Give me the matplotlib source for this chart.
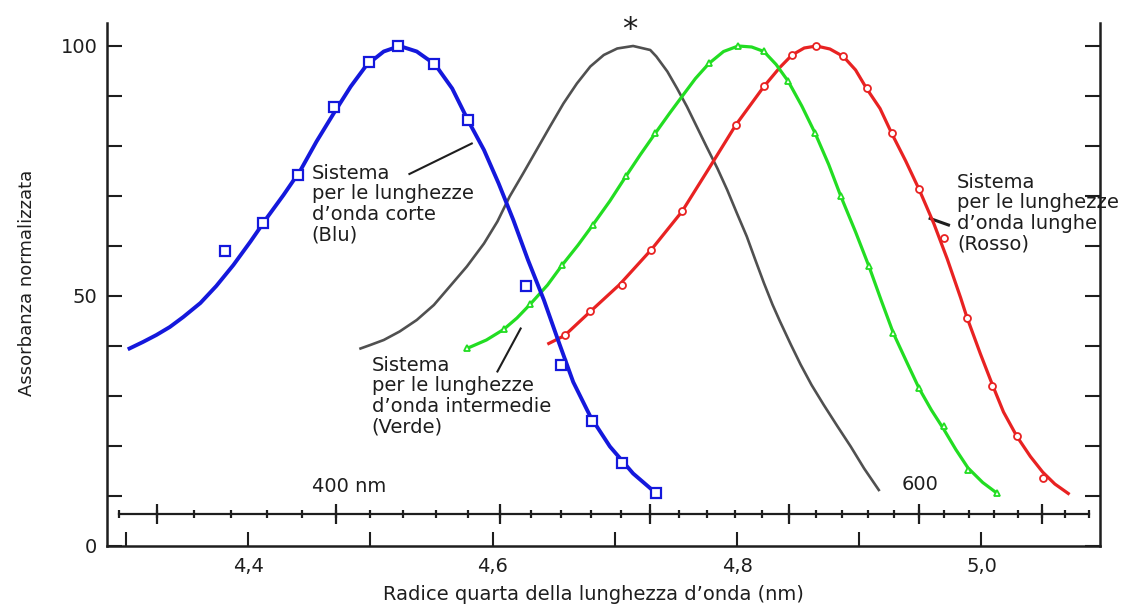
import matplotlib.pyplot as plt

# x = fourth root of wavelength, y = normalised absorbance
blue_line_x = [4.303, 4.314, 4.325, 4.336, 4.347, 4.361, 4.374, 4.388, 4.402, 4.415,
               4.429, 4.443, 4.456, 4.470, 4.484, 4.497, 4.511, 4.524, 4.538, 4.553,
               4.567, 4.580, 4.593, 4.605, 4.617, 4.629, 4.642, 4.654, 4.666, 4.680,
               4.696, 4.715, 4.734]
blue_line_y = [39.5, 40.8, 42.2, 43.8, 45.8, 48.6, 52.0, 56.2, 60.9, 65.5,
               70.2, 75.2, 80.9, 86.5, 91.9, 96.2, 98.9, 100.0, 98.9, 96.3,
               91.5, 85.1, 79.2, 72.5, 65.2, 57.2, 49.2, 40.9, 32.8, 25.9,
               19.9, 14.5, 10.5]
blue_pts_x = [4.381, 4.412, 4.441, 4.470, 4.499, 4.523, 4.552, 4.580, 4.627, 4.656,
              4.681, 4.706, 4.734]
blue_pts_y = [58.9, 64.5, 74.1, 87.7, 96.7, 100.0, 96.3, 85.1, 51.9, 36.1,
              24.9, 16.5, 10.5]

gray_line_x = [4.492, 4.500, 4.511, 4.524, 4.538, 4.552, 4.565, 4.579, 4.593, 4.604,
               4.614, 4.625, 4.636, 4.647, 4.658, 4.669, 4.680, 4.691, 4.702, 4.715,
               4.729, 4.734, 4.743, 4.751, 4.759, 4.767, 4.775, 4.784, 4.792, 4.800,
               4.808, 4.815, 4.822, 4.829, 4.835, 4.844, 4.852, 4.861, 4.871, 4.882,
               4.893, 4.904, 4.916]
gray_line_y = [39.5, 40.2, 41.2, 42.9, 45.2, 48.2, 51.9, 55.9, 60.5, 64.9,
               69.9, 74.5, 79.2, 83.9, 88.5, 92.5, 95.9, 98.2, 99.5, 100.0,
               99.2, 97.9, 94.9, 91.5, 87.9, 83.9, 79.9, 75.5, 71.2, 66.5,
               61.9, 57.2, 52.6, 48.3, 45.0, 40.3, 36.3, 32.2, 28.2, 24.0,
               19.9, 15.5, 11.2]

green_line_x = [4.579, 4.595, 4.609, 4.620, 4.631, 4.645, 4.657, 4.670, 4.682, 4.696,
                4.709, 4.721, 4.733, 4.745, 4.755, 4.766, 4.777, 4.789, 4.801, 4.812,
                4.822, 4.832, 4.842, 4.853, 4.864, 4.875, 4.885, 4.897, 4.908, 4.918,
                4.928, 4.939, 4.949, 4.959, 4.969, 4.979, 4.989, 5.001, 5.013]
green_line_y = [39.5, 41.2, 43.3, 45.6, 48.4, 52.2, 56.2, 60.2, 64.2, 69.0,
                73.9, 78.3, 82.5, 86.6, 89.9, 93.5, 96.5, 98.9, 100.0, 99.8,
                98.9, 96.3, 92.9, 88.0, 82.5, 76.3, 69.9, 62.8, 55.9, 49.1,
                42.5, 36.7, 31.5, 27.2, 23.4, 19.3, 15.6, 12.7, 10.5]
green_pts_x = [4.579, 4.609, 4.631, 4.657, 4.682, 4.709, 4.733, 4.777, 4.801, 4.822,
               4.842, 4.864, 4.885, 4.908, 4.928, 4.949, 4.969, 4.989, 5.013]
green_pts_y = [39.5, 43.3, 48.4, 56.2, 64.2, 73.9, 82.5, 96.5, 100.0, 98.9,
               92.9, 82.5, 69.9, 55.9, 42.5, 31.5, 23.9, 15.2, 10.5]

red_line_x = [4.646, 4.659, 4.680, 4.704, 4.730, 4.755, 4.777, 4.799, 4.822, 4.835,
              4.845, 4.855, 4.865, 4.876, 4.887, 4.897, 4.906, 4.917, 4.927, 4.938,
              4.949, 4.961, 4.972, 4.983, 4.988, 4.999, 5.009, 5.018, 5.029, 5.040,
              5.050, 5.060, 5.071]
red_line_y = [40.5, 42.1, 46.9, 52.3, 59.3, 66.9, 75.5, 84.2, 91.9, 95.7,
              98.2, 99.6, 100.0, 99.4, 97.9, 95.2, 91.5, 87.5, 82.3, 77.0,
              71.3, 64.5, 57.4, 49.6, 45.8, 38.5, 32.2, 26.8, 21.9, 17.9,
              14.8, 12.4, 10.5]
red_pts_x = [4.659, 4.680, 4.706, 4.730, 4.755, 4.799, 4.822, 4.845, 4.865, 4.887,
             4.906, 4.927, 4.949, 4.969, 4.988, 5.009, 5.029, 5.050]
red_pts_y = [42.1, 46.9, 52.2, 59.2, 66.9, 84.2, 91.9, 98.2, 100.0, 97.9,
             91.5, 82.5, 71.3, 61.5, 45.5, 31.9, 21.9, 13.6]

# wavelength scale (nm) drawn inside the plot
wl_minor = list(range(340, 680, 10))
wl_major = list(range(350, 700, 50))

x_ticks = [4.3, 4.4, 4.5, 4.6, 4.7, 4.8, 4.9, 5.0]
x_ticklabels = ['', '4,4', '', '4,6', '', '4,8', '', '5,0']
y_ticks = [0, 10, 20, 30, 40, 50, 60, 70, 80, 90, 100]
y_ticklabels = ['0', '', '', '', '', '50', '', '', '', '', '100']

ink = '#1e1e1e'
c_blue = '#1418dc'
c_gray = '#505050'
c_green = '#22dd22'
c_red = '#e82222'

plt.rcParams['font.family'] = 'DejaVu Sans'

fig = plt.figure(figsize=(11.3, 6.07), dpi=100)
ax = fig.add_axes([0.0947, 0.1005, 0.8788, 0.8608])

ax.plot(gray_line_x, gray_line_y, color=c_gray, lw=1.9, zorder=2)
ax.plot(red_line_x, red_line_y, color=c_red, lw=2.3, zorder=3)
ax.plot(red_pts_x, red_pts_y, 'o', ls='none', ms=5, mfc='white', mec=c_red, mew=1.3, zorder=3.5)
ax.plot(green_line_x, green_line_y, color=c_green, lw=2.3, zorder=4)
ax.plot(green_pts_x, green_pts_y, '^', ls='none', ms=5, mfc='white', mec=c_green, mew=1.3, zorder=4.5)
ax.plot(blue_line_x, blue_line_y, color=c_blue, lw=2.8, zorder=5)
ax.plot(blue_pts_x, blue_pts_y, 's', ls='none', ms=6.5, mfc='white', mec=c_blue, mew=1.6, zorder=5.5)

# wavelength ruler
y_ruler = 6.4
minor_x = [w ** 0.25 for w in wl_minor]
major_x = [w ** 0.25 for w in wl_major]
ax.plot([minor_x[0], minor_x[-1]], [y_ruler, y_ruler], color=ink, lw=1.6, zorder=2)
ax.plot(minor_x, [y_ruler] * len(minor_x), '|', ls='none', ms=6, mew=1.6, color=ink)
ax.plot(major_x, [y_ruler] * len(major_x), '|', ls='none', ms=14, mew=1.6, color=ink)
ax.text(4.483, 11.8, '400 nm', fontsize=14, color=ink, ha='center', va='center')
ax.text(4.950, 12.3, '600', fontsize=14, color=ink, ha='center', va='center')

# labels for the three systems
lab = dict(fontsize=14, color=ink, ha='left', va='top', linespacing=1.1)
ax.text(4.452, 76.4, 'Sistema\nper le lunghezze\nd\u2019onda corte\n(Blu)', **lab)
ax.plot([4.532, 4.583], [74.4, 80.5], color=ink, lw=1.5)
ax.text(4.501, 38.0, 'Sistema\nper le lunghezze\nd\u2019onda intermedie\n(Verde)', **lab)
ax.plot([4.604, 4.623], [34.9, 43.5], color=ink, lw=1.5)
ax.text(4.980, 74.6, 'Sistema\nper le lunghezze\nd\u2019onda lunghe\n(Rosso)', **lab)
ax.plot([4.958, 4.973], [65.5, 64.2], color=ink, lw=2.2)

ax.text(4.712, 103.2, '*', fontsize=22, color=ink, ha='center', va='center', clip_on=False)

ax.set_xlim(4.2846, 5.097)
ax.set_ylim(0, 104.5)
ax.set_xticks(x_ticks, x_ticklabels)
ax.set_yticks(y_ticks, y_ticklabels)
ax.tick_params(axis='x', direction='in', length=10, width=1.5, pad=8,
               labelsize=14, colors=ink)
ax.tick_params(axis='y', direction='in', left=True, right=True, length=11, width=1.5,
               pad=7, labelsize=14, colors=ink)
ax.spines['top'].set_visible(False)
for s in ['left', 'right', 'bottom']:
    ax.spines[s].set_linewidth(1.8)
    ax.spines[s].set_color(ink)

fig.text(27 / 1130, 1 - 283 / 607, 'Assorbanza normalizzata', rotation=90,
         fontsize=13, color=ink, ha='center', va='center')
fig.text(593 / 1130, 1 - 595 / 607, 'Radice quarta della lunghezza d\u2019onda (nm)',
         fontsize=14, color=ink, ha='center', va='center')

fig.savefig('out.png', dpi=100)
